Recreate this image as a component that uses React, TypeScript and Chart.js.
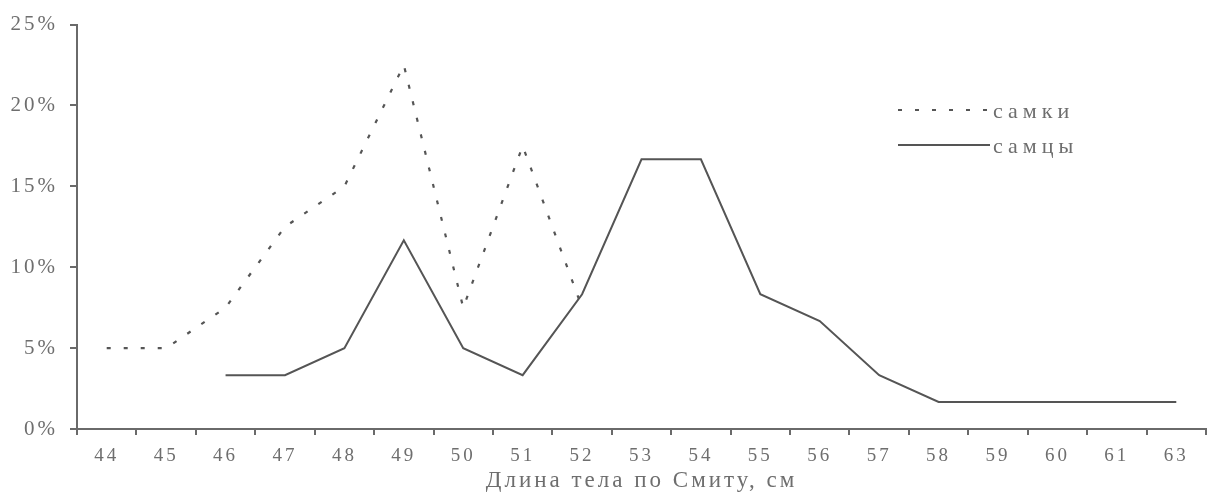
import React, { useEffect, useRef } from "react";
import { Chart, registerables } from "chart.js";

Chart.register(...registerables);

const categories = ["44", "45", "46", "47", "48", "49", "50", "51", "52", "53", "54", "55", "56", "57", "58", "59", "60", "61", "63"];
const females = [5, 5, 7.5, 12.5, 15, 22.5, 7.5, 17.5, 7.5, null, null, null, null, null, null, null, null, null, null];
const males = [null, null, 3.33, 3.33, 5, 11.67, 5, 3.33, 8.33, 16.67, 16.67, 8.33, 6.67, 3.33, 1.67, 1.67, 1.67, 1.67, 1.67];
const yTicks = [0, 5, 10, 15, 20, 25];
const seriesLabels = ["самки", "самцы"];
const xTitle = "Длина тела по Смиту, см";

const LINE = "#555555";
const AXIS = "#6a6a6a";
const TEXT = "#6e6e6e";
const FONT = "'Liberation Serif', 'DejaVu Serif', serif";

const spacingPlugin = {
  id: "spacing",
  beforeDraw(chart: any) {
    (chart.ctx as any).letterSpacing = "3px";
  },
  afterDraw(chart: any) {
    (chart.ctx as any).letterSpacing = "0px";
  },
};

const legendPlugin = {
  id: "customLegend",
  afterDraw(chart: any, _args: any, opts: any) {
    const ctx = chart.ctx;
    ctx.save();
    chart.data.datasets.forEach((ds: any, i: number) => {
      const y = opts.y + i * opts.rowGap;
      ctx.beginPath();
      ctx.setLineDash(ds.borderDash || []);
      ctx.strokeStyle = ds.borderColor;
      ctx.lineWidth = ds.borderWidth;
      ctx.moveTo(opts.x, y);
      ctx.lineTo(opts.x + opts.lineWidth, y);
      ctx.stroke();
      ctx.setLineDash([]);
      (ctx as any).letterSpacing = "5px";
      ctx.fillStyle = TEXT;
      ctx.font = `22px ${FONT}`;
      ctx.textBaseline = "middle";
      ctx.textAlign = "left";
      ctx.fillText(ds.label, opts.x + opts.lineWidth + 3, y + 2);
    });
    ctx.restore();
  },
};

export default function App() {
  const ref = useRef<HTMLCanvasElement | null>(null);

  useEffect(() => {
    if (!ref.current) return;
    const chart = new Chart(ref.current, {
      type: "line",
      data: {
        labels: categories,
        datasets: [
          {
            label: seriesLabels[0],
            data: females,
            borderColor: LINE,
            borderWidth: 2.2,
            borderDash: [4, 13],
            pointRadius: 0,
            tension: 0,
            fill: false,
            spanGaps: false,
          },
          {
            label: seriesLabels[1],
            data: males,
            borderColor: LINE,
            borderWidth: 2,
            pointRadius: 0,
            tension: 0,
            fill: false,
            spanGaps: false,
          },
        ],
      },
      options: {
        responsive: false,
        animation: false,
        devicePixelRatio: 1,
        layout: { padding: { top: 16, right: 9, left: 0, bottom: 0 } },
        plugins: {
          legend: { display: false },
          tooltip: { enabled: false },
          customLegend: { x: 898, y: 110, rowGap: 35, lineWidth: 92 },
        } as any,
        scales: {
          x: {
            type: "category",
            offset: true,
            afterFit(scale: any) {
              scale.height = 67;
            },
            grid: {
              offset: true,
              drawOnChartArea: false,
              drawTicks: true,
              tickLength: 6,
              color: AXIS,
              lineWidth: 2,
            },
            border: { display: true, color: AXIS, width: 2 },
            ticks: {
              color: TEXT,
              font: { family: FONT, size: 19 },
              padding: 10,
              maxRotation: 0,
              autoSkip: false,
            },
            title: {
              display: true,
              text: xTitle,
              color: TEXT,
              font: { family: FONT, size: 23 },
              padding: { top: 0, bottom: 1 },
            },
          },
          y: {
            min: 0,
            max: 25,
            afterFit(scale: any) {
              scale.width = 77;
            },
            afterBuildTicks(scale: any) {
              scale.ticks = yTicks.map((v) => ({ value: v }));
            },
            grid: {
              drawOnChartArea: false,
              drawTicks: true,
              tickLength: 7,
              color: AXIS,
              lineWidth: 2,
            },
            border: { display: true, color: AXIS, width: 2 },
            ticks: {
              color: TEXT,
              font: { family: FONT, size: 21 },
              padding: 12,
              callback: (v: any) => `${v}%`,
            },
          },
        },
      },
      plugins: [spacingPlugin, legendPlugin],
    });
    return () => chart.destroy();
  }, []);

  return (
    <div style={{ position: "absolute", left: 0, top: 0, width: 1215, height: 496, background: "#fff" }}>
      <canvas ref={ref} width={1215} height={496} />
    </div>
  );
}
